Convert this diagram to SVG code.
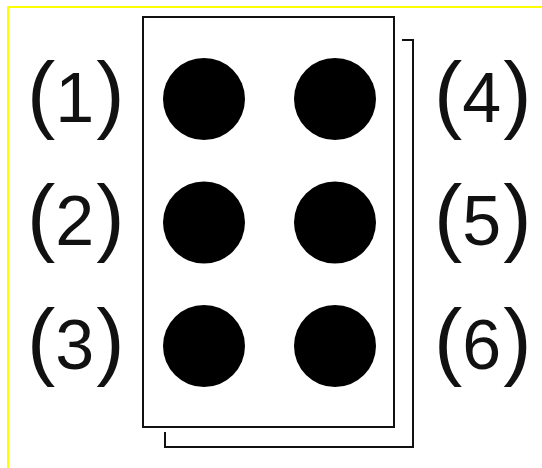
<svg xmlns="http://www.w3.org/2000/svg" width="542" height="468" viewBox="0 0 542 468">
<style>
.frame{fill:none;stroke:#111;stroke-width:2}
.dot{fill:#000}
.lbl{font-family:"Liberation Sans",Arial,sans-serif;fill:#111}
.p{font-size:85px}
.d{font-size:70px}
</style>
<rect x="0" y="0" width="542" height="468" fill="#fff"/>
<path d="M8,468 V7 H542" fill="none" stroke="#ffff00" stroke-width="2"/>
<g id="card">
<path class="frame" d="M402,40 H413 V447 H165 V432"/>
<rect class="frame" x="143" y="17" width="251" height="410" fill="#fff"/>
</g>
<g id="dot1"><circle class="dot" cx="204" cy="99" r="41"/><text class="lbl" x="27" y="122"><tspan class="p">(</tspan><tspan class="d">1</tspan><tspan class="p" dx="2">)</tspan></text></g>
<g id="dot2"><circle class="dot" cx="204" cy="222.5" r="41"/><text class="lbl" x="27" y="245"><tspan class="p">(</tspan><tspan class="d">2</tspan><tspan class="p" dx="2">)</tspan></text></g>
<g id="dot3"><circle class="dot" cx="204" cy="346" r="41"/><text class="lbl" x="27" y="369"><tspan class="p">(</tspan><tspan class="d">3</tspan><tspan class="p" dx="2">)</tspan></text></g>
<g id="dot4"><circle class="dot" cx="335" cy="99" r="41"/><text class="lbl" x="434" y="122"><tspan class="p">(</tspan><tspan class="d">4</tspan><tspan class="p" dx="2">)</tspan></text></g>
<g id="dot5"><circle class="dot" cx="335" cy="222.5" r="41"/><text class="lbl" x="434" y="245"><tspan class="p">(</tspan><tspan class="d">5</tspan><tspan class="p" dx="2">)</tspan></text></g>
<g id="dot6"><circle class="dot" cx="335" cy="346" r="41"/><text class="lbl" x="434" y="369"><tspan class="p">(</tspan><tspan class="d">6</tspan><tspan class="p" dx="2">)</tspan></text></g>
<g id="connectors"></g>
</svg>
